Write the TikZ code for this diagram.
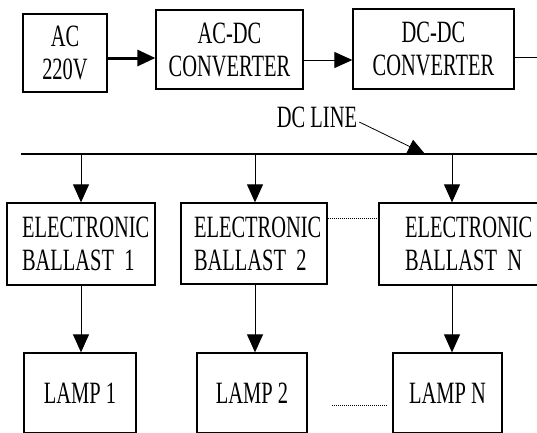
\documentclass[tikz,border=0pt]{standalone}
\usepackage{fontspec}
\newfontfamily\diagfont[FakeStretch=0.66]{Liberation Serif}
\usetikzlibrary{arrows.meta}
\begin{document}
\begin{tikzpicture}[x=1pt,y=-1pt,
  txt/.style={font=\diagfont\fontsize{31}{33}\selectfont},
  blk/.style={draw,line width=1.3pt,inner sep=0pt,txt,align=center},
  conn/.style={line width=1pt,-{Triangle[length=18pt,width=16pt]}},
  thinln/.style={line width=1pt},
  dots/.style={line width=0.8pt,dash pattern=on 1pt off 1pt}]
\useasboundingbox (0,0) rectangle (537,432);
\clip (0,0) rectangle (537,432);
% top row
\node[blk,minimum width=84pt,minimum height=78pt] (ac) at (65,53) {AC\\220V};
\node[blk,minimum width=147pt,minimum height=79pt] (acdc) at (229.5,49.5) {AC-DC\\CONVERTER};
\node[blk,minimum width=161pt,minimum height=80pt] (dcdc) at (433.5,49) {DC-DC\\CONVERTER};
\draw[conn,line width=3pt] (ac.east |- 0,58) -- (acdc.west |- 0,58);
\draw[conn] (acdc.east |- 0,60) -- (dcdc.west |- 0,60);
\coordinate (outr) at (537,57);
\draw[thinln] (dcdc.east |- outr) -- (outr);
% bus
\coordinate (busl) at (21,154);
\coordinate (busr) at (537,154);
\draw[line width=1.5pt] (busl) -- (busr);
\node[txt,inner sep=0pt] (dcl) at (317,117) {DC LINE};
\coordinate (dctip) at (425,154);
\draw[line width=0.8pt,-{Triangle[length=17pt,width=15pt]}] ([xshift=2pt,yshift=-5pt]dcl.east) -- (dctip);
% ballasts
\node[blk,minimum height=82pt,text width=118pt,align=left,inner xsep=15pt] (b1) at (81,244) {ELECTRONIC\\BALLAST 1};
\node[blk,minimum height=81pt,text width=120pt,align=left,inner xsep=13pt] (b2) at (254,243.5) {ELECTRONIC\\BALLAST 2};
\node[blk,minimum height=82pt,text width=126pt,align=left,inner xsep=26pt] (bN) at (468,244) {ELECTRONIC\\BALLAST N};
\coordinate (d1) at (81,154);
\coordinate (d2) at (255,154);
\coordinate (dN) at (452,154);
\draw[conn] (d1) -- (d1 |- b1.north);
\draw[conn] (d2) -- (d2 |- b2.north);
\draw[conn] (dN) -- (dN |- bN.north);
\draw[dots] (b2.east |- 0,218) -- (bN.west |- 0,218);
% lamps
\node[blk,minimum width=112pt,minimum height=80pt] (l1) at (80,393) {LAMP 1};
\node[blk,minimum width=110pt,minimum height=80pt] (l2) at (252,393) {LAMP 2};
\node[blk,minimum width=109pt,minimum height=80pt] (lN) at (447.5,393) {LAMP N};
\draw[conn] (b1.south -| d1) -- (l1.north -| d1);
\draw[conn] (b2.south -| d2) -- (l2.north -| d2);
\draw[conn] (bN.south -| dN) -- (lN.north -| dN);
\coordinate (dA) at (332,405);
\coordinate (dB) at (388,405);
\draw[dots] (dA) -- (dB);
\end{tikzpicture}
\end{document}
